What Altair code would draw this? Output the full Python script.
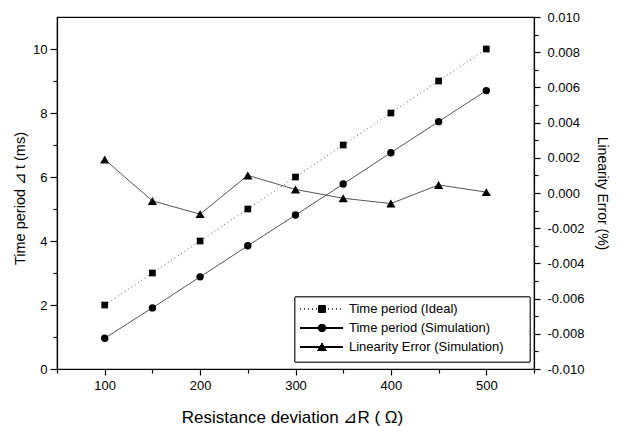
import altair as alt
import pandas as pd

# ---- data ----
resistance = [100, 150, 200, 250, 300, 350, 400, 450, 500]
time_ideal = [2, 3, 4, 5, 6, 7, 8, 9, 10]
time_sim = [0.96, 1.91, 2.88, 3.85, 4.81, 5.78, 6.76, 7.73, 8.70]
lin_error = [0.0019, -0.00045, -0.0012, 0.0010, 0.0002, -0.0003, -0.0006, 0.00046, 0.00005]

legend_labels = ["Time period (Ideal)", "Time period (Simulation)", "Linearity Error (Simulation)"]

x_ticks = [50 + 50 * i for i in range(11)]
y_ticks = list(range(0, 11))
r_ticks = [round(-0.010 + 0.001 * i, 3) for i in range(21)]

df = pd.DataFrame({"R": resistance, "ideal": time_ideal, "sim": time_sim, "err": lin_error})

FONT = "Liberation Sans"
W, H = 477, 352
LINE_COL = "#555555"

x_enc = alt.X(
    "R:Q",
    scale=alt.Scale(domain=[50, 550], nice=False, zero=False),
    axis=alt.Axis(
        values=x_ticks,
        labelExpr="(datum.value % 100 === 0 && datum.value >= 100 && datum.value <= 500) ? datum.value : ''",
        tickSize={"condition": {"test": "datum.value % 100 === 0", "value": 6}, "value": 4},
        title="Resistance deviation ⊿R ( Ω)",
        titleY=53,
        titleX=235,
        titleFontSize=17,
        titleBaseline="alphabetic",
        labelPadding=4,
        grid=False,
    ),
)

left_axis = alt.Axis(
    values=y_ticks,
    labelExpr="datum.value % 2 === 0 ? datum.value : ''",
    tickSize={"condition": {"test": "datum.value % 2 === 0", "value": 7}, "value": 4},
    title="Time period ⊿\u2009t (ms)",
    titleX=-37,
    titleY=181,
    titleAngle=-90,
    titleFontSize=14.5,
    titleBaseline="middle",
    labelPadding=3,
    grid=False,
    orient="left",
)

y_left_scale = alt.Scale(domain=[0, 11], nice=False, zero=False)

ideal_line = alt.Chart(df).mark_line(color=LINE_COL, strokeWidth=1, strokeDash=[1, 3]).encode(
    x=x_enc, y=alt.Y("ideal:Q", scale=y_left_scale, axis=left_axis))
ideal_pts = alt.Chart(df).mark_point(shape="square", filled=True, color="black", size=45, opacity=1).encode(
    x=x_enc, y=alt.Y("ideal:Q", scale=y_left_scale, axis=left_axis))
sim_line = alt.Chart(df).mark_line(color=LINE_COL, strokeWidth=1).encode(
    x=x_enc, y=alt.Y("sim:Q", scale=y_left_scale, axis=left_axis))
sim_pts = alt.Chart(df).mark_point(shape="circle", filled=True, color="black", size=55, opacity=1).encode(
    x=x_enc, y=alt.Y("sim:Q", scale=y_left_scale, axis=left_axis))

left = alt.layer(ideal_line, ideal_pts, sim_line, sim_pts)

right_axis = alt.Axis(
    values=r_ticks,
    labelExpr="abs(round(datum.value*1000)) % 2 === 0 ? (datum.value < -0.0000001 ? '-' : '') + format(abs(datum.value), '.3f') : ''",
    tickSize={"condition": {"test": "abs(round(datum.value*1000)) % 2 === 0", "value": 6}, "value": 4},
    title="Linearity Error (%)",
    titleX=67,
    titleAngle=90,
    titleFontSize=14,
    titleBaseline="middle",
    labelPadding=7,
    grid=False,
    orient="right",
)
y_right_scale = alt.Scale(domain=[-0.010, 0.010], nice=False, zero=False)

err_line = alt.Chart(df).mark_line(color=LINE_COL, strokeWidth=1).encode(
    x=x_enc, y=alt.Y("err:Q", scale=y_right_scale, axis=right_axis))
err_pts = alt.Chart(df).mark_point(shape="triangle-up", filled=True, color="black", size=85, opacity=1).encode(
    x=x_enc, y=alt.Y("err:Q", scale=y_right_scale, axis=right_axis))

right = alt.layer(err_line, err_pts)

# ---- legend (drawn by hand) ----
box = alt.Chart(df).mark_rect(fill="white", stroke="#444444", strokeWidth=1).encode(
    x=alt.value(238), x2=alt.value(473), y=alt.value(280), y2=alt.value(345))

rows_y = [292, 311, 330]
leg_layers = [box]
dashes = [[1, 3], [1, 0], [1, 0]]
shapes = ["square", "circle", "triangle-up"]
sizes = [45, 55, 85]
for i, lab in enumerate(legend_labels):
    ry = rows_y[i]
    leg_layers.append(
        alt.Chart(df).mark_rule(color=LINE_COL if i == 0 else "black", strokeWidth=1, strokeDash=dashes[i]).encode(
            x=alt.value(243), x2=alt.value(286), y=alt.value(ry)))
    leg_layers.append(
        alt.Chart(df).mark_point(shape=shapes[i], filled=True, color="black", size=sizes[i], opacity=1).encode(
            x=alt.value(265), y=alt.value(ry)))
    leg_layers.append(
        alt.Chart(pd.DataFrame({"t": [lab]})).mark_text(
            align="left", baseline="middle", font=FONT, fontSize=13, fontWeight="normal", color="black"
        ).encode(x=alt.value(292), y=alt.value(ry), text="t:N"))

legend = alt.layer(*leg_layers)

chart = alt.layer(left, right, legend).resolve_scale(y="independent").properties(
    width=W,
    height=H,
    autosize=alt.AutoSizeParams(type="none"),
    padding={"left": 49, "top": 9, "right": 78, "bottom": 57},
).configure_view(
    stroke="black", strokeWidth=1.2
).configure_axis(
    domainColor="black", domainWidth=1.2, tickColor="black", tickWidth=1.2,
    labelFont=FONT, labelFontSize=13, labelColor="black",
    titleFont=FONT, titleFontSize=16, titleColor="black", titleFontWeight="normal",
)

chart.save("out.html", embed_options={"renderer": "svg", "actions": False})
